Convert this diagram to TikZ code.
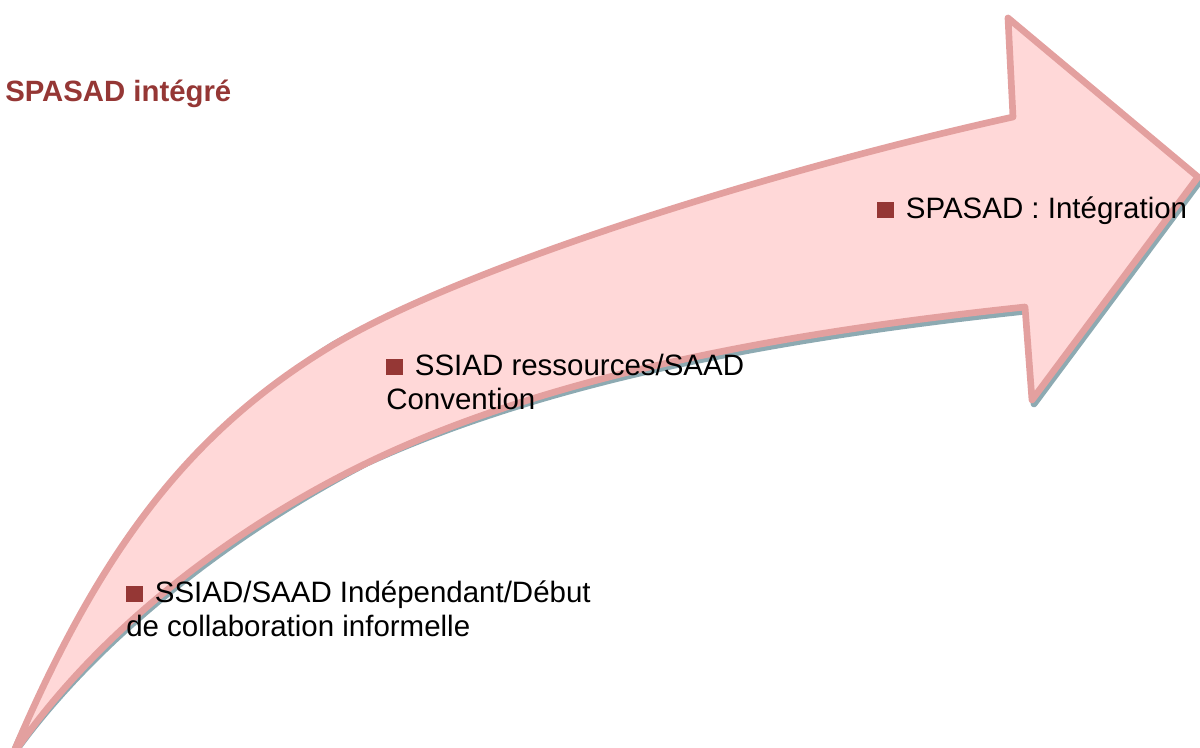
\documentclass[tikz,border=0pt]{standalone}
\usepackage{fontspec}
\setmainfont{Liberation Sans}
\usetikzlibrary{positioning}
\definecolor{arrowfill}{HTML}{FFD8D8}
\definecolor{arrowline}{HTML}{E3A09F}
\definecolor{arrowshade}{HTML}{8DAAB2}
\definecolor{bulletred}{HTML}{953735}
\tikzset
{
    arrowbody/.style   = {fill=arrowfill, draw=arrowline, line width=5pt, line join=round},
    arrowshadow/.style = {fill=arrowshade, draw=arrowshade, line width=5pt, line join=round, shift={(2,4)}},
    stage/.style       = {anchor=north west, inner sep=0pt, align=left, font=\fontsize{22.1pt}{26pt}\selectfont},
    heading/.style     = {anchor=base west, inner sep=0pt, text=bulletred, font=\fontsize{22pt}{26pt}\selectfont\bfseries}
}
\newcommand\BULLET{\rule{0pt}{18pt}\textcolor{bulletred}{\rule{12.5pt}{12.5pt}}\hspace{9pt}}

\begin{document}
\begin{tikzpicture}[x=0.75pt, y=-0.75pt]
   \useasboundingbox (0,0) rectangle (1200,748);
   \coordinate (tail)   at (12,756);
   \coordinate (upmid)  at (333,345);
   \coordinate (lowmid) at (367,463);
   \newcommand\ARROWPATH{(tail) .. controls (97.8,553.6) and (187.3,432.4) .. (upmid)
      .. controls (461.6,267.9) and (769,171) .. (1013,117)
      -- (1008,18) -- (1198,177) -- (1032,400) -- (1025,307)
      .. controls (776.5,333.5) and (547,376) .. (lowmid)
      .. controls (232,528.3) and (95.9,631.7) .. (tail) -- cycle}

   % shadow, then the arrow itself
   \path[arrowshadow] \ARROWPATH;
   \path[arrowbody] \ARROWPATH;

   \node (title) [heading] at (5, 102)  {SPASAD intégré};

   \node (indep) [stage]   at (126, 578) {\BULLET SSIAD/SAAD Indépendant/Début\\de collaboration informelle};
   \node (conv)  [stage]   at (386, 351) {\BULLET SSIAD ressources/SAAD\\Convention};
   \node (integ) [stage]   at (877, 194) {\BULLET SPASAD : Intégration};
\end{tikzpicture}
\end{document}
